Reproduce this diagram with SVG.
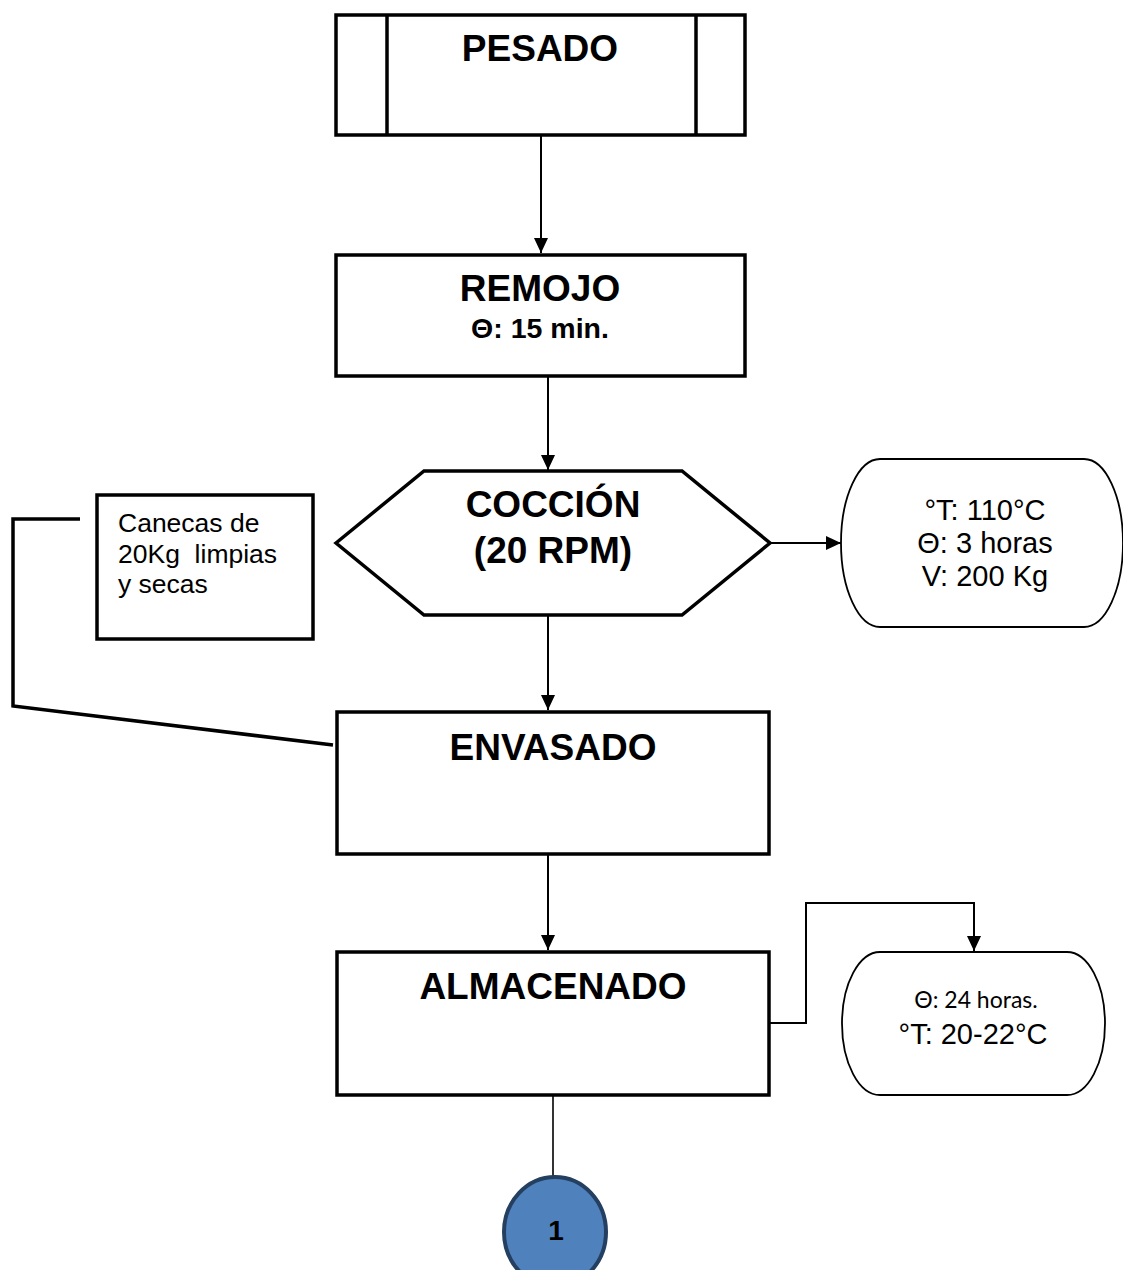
<svg xmlns="http://www.w3.org/2000/svg" width="1123" height="1270" viewBox="0 0 1123 1270">
<style>
.box{fill:#fff;stroke:#000;stroke-width:3.5}
.thin{fill:#fff;stroke:#000;stroke-width:1.8}
.conn{fill:none;stroke:#000;stroke-width:2}
.thick{fill:none;stroke:#000;stroke-width:3.5}
.tb{font-family:"Liberation Sans",Arial,sans-serif;font-weight:bold;text-anchor:middle;fill:#000}
.big{font-size:37px}
.tr{font-family:"Liberation Sans",Arial,sans-serif;fill:#000}
.tc{font-family:Lato,"Liberation Sans",sans-serif;fill:#000;text-anchor:middle}
</style>
<defs>
<marker id="arr" markerUnits="userSpaceOnUse" markerWidth="15" markerHeight="14" refX="15" refY="7" orient="auto">
<path d="M0,0 L15,7 L0,14 Z" fill="#000"/>
</marker>
</defs>
<rect width="1123" height="1270" fill="#fff"/>
<g id="connectors">
<line class="conn" x1="541" y1="135" x2="541" y2="253" marker-end="url(#arr)"/>
<line class="conn" x1="548" y1="376" x2="548" y2="470" marker-end="url(#arr)"/>
<line class="conn" x1="770" y1="543" x2="841" y2="543" marker-end="url(#arr)"/>
<line class="conn" x1="548" y1="615" x2="548" y2="710" marker-end="url(#arr)"/>
<line class="conn" x1="548" y1="854" x2="548" y2="950" marker-end="url(#arr)"/>
<polyline class="conn" points="769,1023 806,1023 806,903 974,903 974,951" marker-end="url(#arr)"/>
<polyline class="thick" points="80,519 13,519 13,706 333,745"/>
<line x1="553" y1="1095" x2="553" y2="1177" stroke="#000" stroke-width="1.6"/>
</g>
<g id="pesado">
<rect class="box" x="336" y="15" width="409" height="120"/>
<line class="box" x1="387" y1="15" x2="387" y2="135"/>
<line class="box" x1="696" y1="15" x2="696" y2="135"/>
<text class="tb big" x="540" y="61">PESADO</text>
</g>
<g id="remojo">
<rect class="box" x="336" y="255" width="409" height="121"/>
<text class="tb big" x="540" y="301">REMOJO</text>
<text class="tb" x="540" y="338" font-size="28.5">Θ: 15 min.</text>
</g>
<g id="coccion">
<polygon class="box" points="336,543 424,471 682,471 770,543 682,615 424,615"/>
<text class="tb big" x="553" y="517">COCCIÓN</text>
<text class="tb big" x="553" y="563">(20 RPM)</text>
</g>
<g id="cond1">
<path class="thin" d="M880,459 L1084,459 A39,84 0 0 1 1084,627 L880,627 A39,84 0 0 1 880,459 Z"/>
<text class="tr" text-anchor="middle" x="985" y="520" font-size="29">°T: 110°C</text>
<text class="tr" text-anchor="middle" x="985" y="553" font-size="29">Θ: 3 horas</text>
<text class="tr" text-anchor="middle" x="985" y="586" font-size="29">V: 200 Kg</text>
</g>
<g id="canecas">
<rect class="box" x="97" y="495" width="216" height="144"/>
<text class="tr" font-size="26.5" xml:space="preserve"><tspan x="118" y="532">Canecas de</tspan><tspan x="118" y="563">20Kg  limpias</tspan><tspan x="118" y="593">y secas</tspan></text>
</g>
<g id="envasado">
<rect class="box" x="337" y="712" width="432" height="142"/>
<text class="tb big" x="553" y="760">ENVASADO</text>
</g>
<g id="almacenado">
<rect class="box" x="337" y="952" width="432" height="143"/>
<text class="tb big" x="553" y="999">ALMACENADO</text>
</g>
<g id="cond2">
<path class="thin" d="M880,952 L1067,952 A38,71.5 0 0 1 1067,1095 L880,1095 A38,71.5 0 0 1 880,952 Z"/>
<text class="tc" x="976" y="1008" font-size="23">Θ: 24 horas.</text>
<text class="tr" text-anchor="middle" x="973" y="1044" font-size="29">°T: 20-22°C</text>
</g>
<g id="connector1">
<ellipse cx="555" cy="1232" rx="51" ry="55" fill="#4F81BD" stroke="#243F60" stroke-width="4"/>
<text class="tb" x="556" y="1240" font-size="28">1</text>
</g>
</svg>
